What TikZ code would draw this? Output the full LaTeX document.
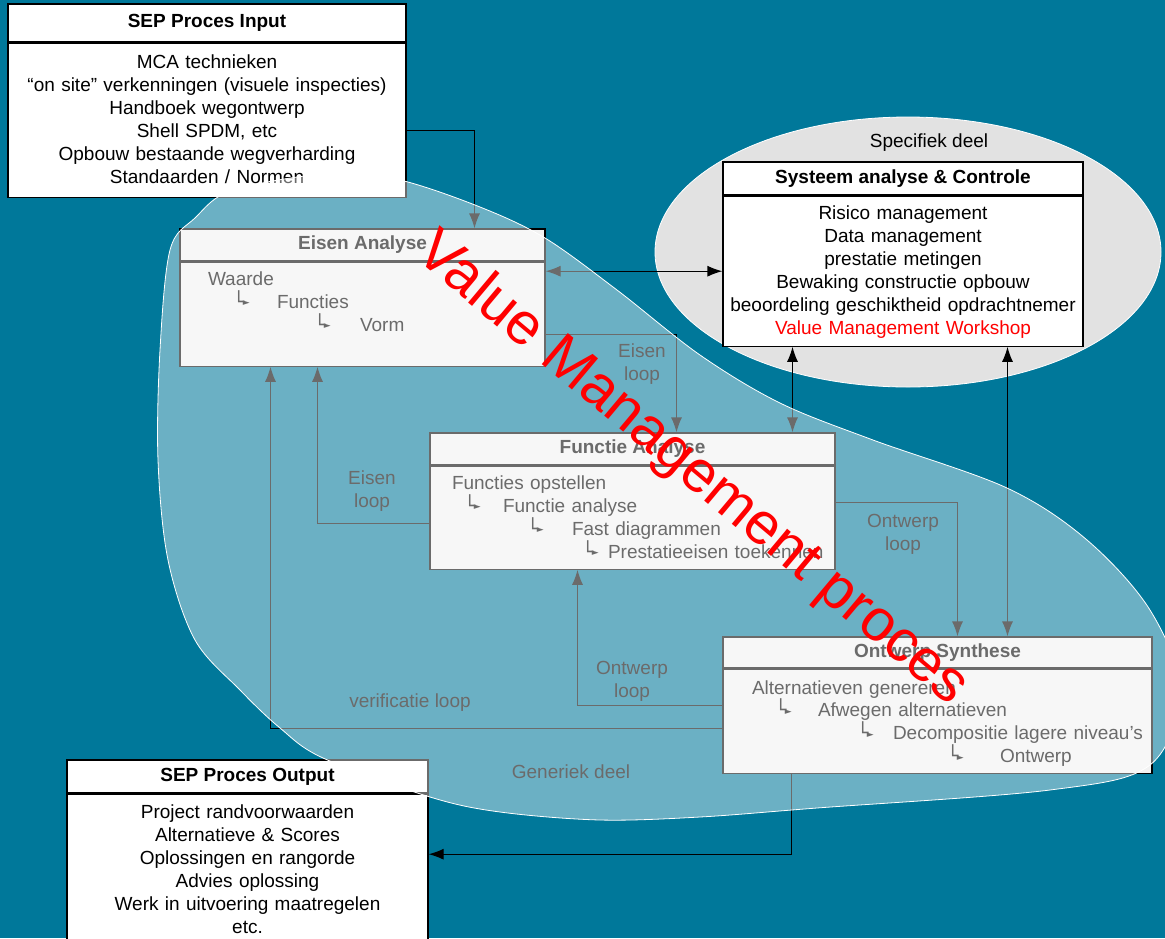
\documentclass[tikz,border=0pt]{standalone}
\usepackage{fontspec}
\setmainfont{Liberation Sans}
\newfontfamily\symfont{DejaVu Sans}
\usetikzlibrary{positioning,arrows.meta}
\definecolor{SEPTeal}{HTML}{00789A}
\definecolor{SEPGrey}{HTML}{E2E2E2}
\definecolor{SEPRed}{HTML}{FF0000}
\newcommand{\larr}{{\symfont └\kern-1.5pt\raisebox{2.4pt}{\fontsize{9}{9}\selectfont ►}}}
\newcommand{\nextstep}[3]{\hspace*{#1pt}\makebox[\dimexpr #2pt-#1pt\relax][l]{\larr}#3}

\begin{document}
\begin{tikzpicture}[x=1pt,y=-1pt,>={Latex[length=15pt,width=11pt]},
  every node/.style={font=\fontsize{19}{23}\selectfont}]
  \tikzstyle{headbox}=[draw,fill=white,line width=1.2pt,inner sep=0pt,
    font=\fontsize{19}{23}\selectfont\bfseries]
  \tikzstyle{listbox}=[draw,fill=white,line width=1.2pt,inner sep=0pt,align=center]
  \tikzstyle{genhead}=[headbox,fill=gray!10]
  \tikzstyle{genlist}=[listbox,fill=gray!10,align=left]
  \tikzstyle{link}=[line width=1.2pt]
  \tikzstyle{looptext}=[align=center]

  \useasboundingbox (0,0) rectangle (1165,938);
  \fill[SEPTeal] (0,0) rectangle (1165,938);

  % specifiek deel
  \filldraw[fill=SEPGrey,draw=white,line width=0.8pt] (908,252) ellipse [x radius=253pt,y radius=135pt];
  \node (specdeel) at (929,143) {Specifiek deel};

  \node[headbox,minimum width=398pt,minimum height=38pt] (inhead) at (207,23) {SEP Proces Input};
  \node[listbox,text width=398pt,text height=25pt,text depth=129pt,below=0pt of inhead] (inlist)
    {MCA technieken\\“on site” verkenningen (visuele inspecties)\\Handboek wegontwerp\\Shell SPDM, etc\\Opbouw bestaande wegverharding\\Standaarden / Normen};

  \node[headbox,minimum width=360pt,minimum height=33pt] (syshead) at (903,178.5) {Systeem analyse \& Controle};
  \node[listbox,text width=360pt,text height=23pt,text depth=127pt,below=0pt of syshead] (syslist)
    {Risico management\\Data management\\prestatie metingen\\Bewaking constructie opbouw\\beoordeling geschiktheid opdrachtnemer\\\textcolor{SEPRed}{Value Management Workshop}};

  \node[headbox,minimum width=361pt,minimum height=33pt] (outhead) at (247.5,776.5) {SEP Proces Output};
  \node[listbox,text width=361pt,text height=24pt,text depth=128pt,below=0pt of outhead] (outlist)
    {Project randvoorwaarden\\Alternatieve \& Scores\\Oplossingen en rangorde\\Advies oplossing\\Werk in uitvoering maatregelen\\etc.};

  % generiek deel
  \node[genhead,minimum width=365pt,minimum height=32pt] (eisenhead) at (362.5,245) {Eisen Analyse};
  \node[genlist,text width=365pt,text height=23pt,text depth=81pt,below=0pt of eisenhead] (eisenlist)
    {\hspace*{28pt}Waarde\\\nextstep{53}{97}{Functies}\\\nextstep{134}{180}{Vorm}};

  \node[genhead,minimum width=405pt,minimum height=32pt] (funhead) at (632.5,449) {Functie Analyse};
  \node[genlist,text width=405pt,text height=23pt,text depth=80pt,below=0pt of funhead] (funlist)
    {\hspace*{22pt}Functies opstellen\\\nextstep{34}{73}{Functie analyse}\\\nextstep{97}{142}{Fast diagrammen}\\\nextstep{152}{178}{Prestatieeisen toekennen}};

  \node[genhead,minimum width=429pt,minimum height=31pt] (onthead) at (937.5,652.5) {Ontwerp Synthese};
  \node[genlist,text width=429pt,text height=25pt,text depth=79pt,below=0pt of onthead,
    font=\fontsize{19}{21.7}\selectfont] (ontlist)
    {\hspace*{29pt}Alternatieven genereren\\\nextstep{52}{95}{Afwegen alternatieven}\\\nextstep{134}{170}{Decompositie lagere niveau's}\\\nextstep{224}{277}{Ontwerp}};

  \draw[link,->] ([yshift=-10pt]inlist.east) -| ([xshift=112pt]eisenhead.north);
  \draw[link,<->] (eisenlist.east |- syslist.west) -- (syslist.west);
  \draw[link,->] ([yshift=-20pt]eisenlist.east) -| ([xshift=44pt]funhead.north);
  \draw[link,<->] ([xshift=160pt]funhead.north) -- ([xshift=160pt]funhead.north |- syslist.south);
  \draw[link,<->] ([xshift=70pt]onthead.north) -- ([xshift=70pt]onthead.north |- syslist.south);
  \draw[link,->] ([yshift=15pt]funlist.east) -| ([xshift=20pt]onthead.north);
  \draw[link,->] ([yshift=16pt]ontlist.west) -| ([xshift=-55pt]funlist.south);
  \draw[link,->] ([yshift=-7pt]ontlist.west) -| ([xshift=-92pt]eisenlist.south);
  \draw[link,->] ([yshift=-6pt]funlist.west) -| ([xshift=-45pt]eisenlist.south);
  \draw[link,->] ([xshift=-146pt]ontlist.south) |- ([yshift=16pt]outlist.east);

  \node[looptext] (eisloopa) at (642,364) {Eisen\\loop};
  \node[looptext] (eisloopb) at (372,491) {Eisen\\loop};
  \node[looptext] (ontloopa) at (903,534) {Ontwerp\\loop};
  \node[looptext] (ontloopb) at (632,681) {Ontwerp\\loop};
  \node (verloop) at (410,703) {verificatie loop};
  \node (gendeel) at (571,772) {Generiek deel};

  \filldraw[fill=white,fill opacity=0.42,draw=white,line width=0.8pt]
    plot[smooth cycle,tension=0.55] coordinates {(170,250) (195,218) (233,190) (333,173)
    (400,180) (480,207) (545,238) (617,290) (700,355) (780,403) (873,440) (1007,488)
    (1087,540) (1150,610) (1180,690) (1150,765) (1050,790) (817,808) (700,817) (600,820)
    (500,812) (430,797) (323,758) (280,728) (240,690) (195,640) (168,560) (158,460) (160,350)};

  \node[text=SEPRed,rotate=-40,font=\fontsize{59}{59}\selectfont] (vmproc) at (692,470) {Value Management proces};
\end{tikzpicture}
\end{document}
